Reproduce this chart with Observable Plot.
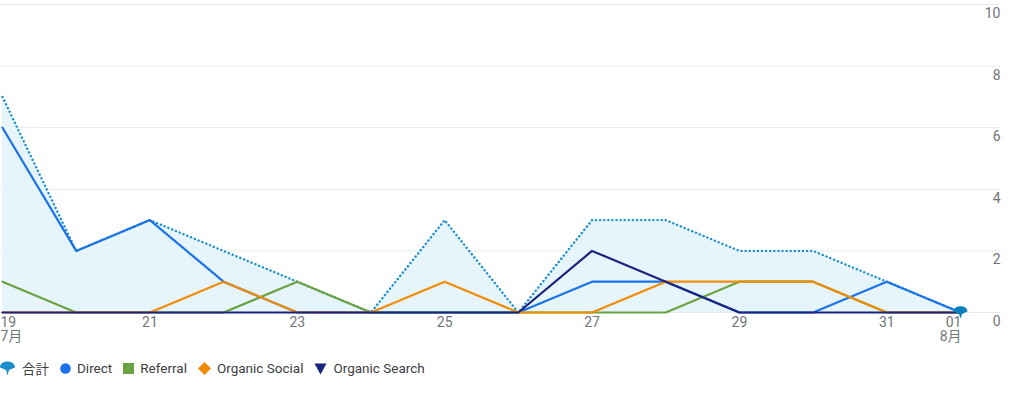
<!DOCTYPE html>
<html>
<head>
<meta charset="utf-8">
<script src="https://cdn.jsdelivr.net/npm/d3@7"></script>
<script src="https://cdn.jsdelivr.net/npm/@observablehq/plot@0.6"></script>
<style>
  html, body { margin: 0; padding: 0; background: #fff; }
  body { width: 1024px; height: 393px; position: relative; overflow: hidden; font-family: Roboto, "Noto Sans CJK JP", sans-serif; }
  #chart { position: absolute; left: 0; top: 0; }
  #legend { position: absolute; left: 0; top: 358px; display: flex; align-items: center; font-size: 13.5px; color: #3c4043; font-family: Roboto, "Noto Sans CJK JP", sans-serif; }
  #legend .item { display: flex; align-items: center; margin-right: 11px; }
  #legend svg { margin-right: 6px; }
  #legend .item:first-child svg { margin-right: 7px; }
</style>
</head>
<body>
<div id="chart"></div>
<div id="legend"></div>
<script>
// ---- data ----
const days = ["2024-07-19","2024-07-20","2024-07-21","2024-07-22","2024-07-23","2024-07-24","2024-07-25",
              "2024-07-26","2024-07-27","2024-07-28","2024-07-29","2024-07-30","2024-07-31","2024-08-01"];
const total         = [7, 2, 3, 2, 1, 0, 3, 0, 3, 3, 2, 2, 1, 0];
const direct        = [6, 2, 3, 1, 0, 0, 0, 0, 1, 1, 0, 0, 1, 0];
const referral      = [1, 0, 0, 0, 1, 0, 0, 0, 0, 0, 1, 1, 0, 0];
const organicSocial = [0, 0, 0, 1, 0, 0, 1, 0, 0, 1, 1, 1, 0, 0];
const organicSearch = [0, 0, 0, 0, 0, 0, 0, 0, 2, 1, 0, 0, 0, 0];
const seriesNames = ["合計", "Direct", "Referral", "Organic Social", "Organic Search"];
const yTicks = [0, 2, 4, 6, 8, 10];
const xTickDays = ["2024-07-21","2024-07-23","2024-07-25","2024-07-27","2024-07-29","2024-07-31"];

const colors = {
  "合計": "#1a8fcc",
  "Direct": "#1a73e8",
  "Referral": "#6aa342",
  "Organic Social": "#f28b05",
  "Organic Search": "#1a237e"
};

const parse = d3.utcParse("%Y-%m-%d");
const dates = days.map(parse);
const mk = (vals) => dates.map((d, i) => ({date: d, value: vals[i]}));
const totalData = mk(total);
const lines = [
  ["Direct", mk(direct)],
  ["Referral", mk(referral)],
  ["Organic Social", mk(organicSocial)],
  ["Organic Search", mk(organicSearch)]
];

const dayFmt = d3.utcFormat("%d");
const monthFmt = d => (d.getUTCMonth() + 1) + "月";

// custom pin symbol
const pin = {
  draw(ctx, size) {
    const s = Math.sqrt(size) / 8;
    ctx.moveTo(-7 * s, -1 * s);
    ctx.bezierCurveTo(-7 * s, -8 * s, 7 * s, -8 * s, 7 * s, -1 * s);
    ctx.lineTo(1.5 * s, 1.5 * s);
    ctx.lineTo(0, 6 * s);
    ctx.lineTo(-1.5 * s, 1.5 * s);
    ctx.closePath();
  }
};

const axisStyle = {fontSize: 14, fill: "#70757a", fontFamily: "Roboto, 'Noto Sans CJK JP', sans-serif"};

const chart = Plot.plot({
  width: 1024,
  height: 350,
  marginLeft: 2,
  marginRight: 64,
  marginTop: 4,
  marginBottom: 38,
  style: {background: "#fff", overflow: "visible", fontFamily: "Roboto, sans-serif"},
  x: {type: "utc", domain: [dates[0], dates[dates.length - 1]], axis: null, label: null},
  y: {domain: [0, 10], axis: null, label: null},
  marks: [
    Plot.ruleY(yTicks, {stroke: "#e6e8eb", strokeWidth: 1, insetLeft: -2, insetRight: -40}),
    Plot.areaY(totalData, {x: "date", y: "value", fill: "#e6f4fc", fillOpacity: 1}),
    Plot.lineY(totalData, {x: "date", y: "value", stroke: colors["合計"], strokeWidth: 2.4,
      strokeDasharray: "0.1,4", strokeLinecap: "round"}),
    ...lines.map(([name, data]) => Plot.lineY(data, {x: "date", y: "value", stroke: colors[name], strokeWidth: 2.2, strokeLinejoin: "round"})),
    Plot.axisY({anchor: "right", ticks: yTicks, tickSize: 0, tickPadding: 0, textAnchor: "end", dx: 40, dy: 9, label: null, ...axisStyle}),
    Plot.axisX({ticks: xTickDays.map(parse), tickSize: 0, tickPadding: 5, tickFormat: dayFmt, label: null, ...axisStyle}),
    Plot.axisX({ticks: [dates[0]], tickSize: 0, tickPadding: 5, textAnchor: "start", dx: -2, label: null,
      tickFormat: d => dayFmt(d) + "\n" + monthFmt(d), ...axisStyle}),
    Plot.axisX({ticks: [dates[dates.length - 1]], tickSize: 0, tickPadding: 5, textAnchor: "end", dx: 1, label: null,
      tickFormat: d => dayFmt(d) + "\n" + monthFmt(d), ...axisStyle}),
    Plot.dot([totalData[totalData.length - 1]], {x: "date", y: "value", symbol: pin, r: 4.5,
      fill: "#0b7fc0", stroke: "none"})
  ]
});
document.getElementById("chart").appendChild(chart);

// ---- legend ----
const legend = document.getElementById("legend");
const icon = {
  "合計": c => `<svg width="15" height="15" viewBox="-7.5 -7.5 15 15"><path d="M-7.5,-1 C-7.5,-9 7.5,-9 7.5,-1 L1.5,1.5 L0,7 L-1.5,1.5 Z" fill="${c}"/></svg>`,
  "Direct": c => `<svg width="11" height="11" viewBox="-5.5 -5.5 11 11"><circle r="5.3" fill="${c}"/></svg>`,
  "Referral": c => `<svg width="11" height="11" viewBox="-5.5 -5.5 11 11"><rect x="-5.5" y="-5.5" width="11" height="11" fill="${c}"/></svg>`,
  "Organic Social": c => `<svg width="13" height="13" viewBox="-6.5 -6.5 13 13"><path d="M0,-6.5 L6.5,0 L0,6.5 L-6.5,0 Z" fill="${c}"/></svg>`,
  "Organic Search": c => `<svg width="13" height="13" viewBox="-6.5 -6.5 13 13"><path d="M-6,-5 L6,-5 L0,6 Z" fill="${c}"/></svg>`
};
seriesNames.forEach(name => {
  const el = document.createElement("div");
  el.className = "item";
  el.innerHTML = icon[name](colors[name]) + `<span>${name}</span>`;
  legend.appendChild(el);
});
</script>
</body>
</html>
